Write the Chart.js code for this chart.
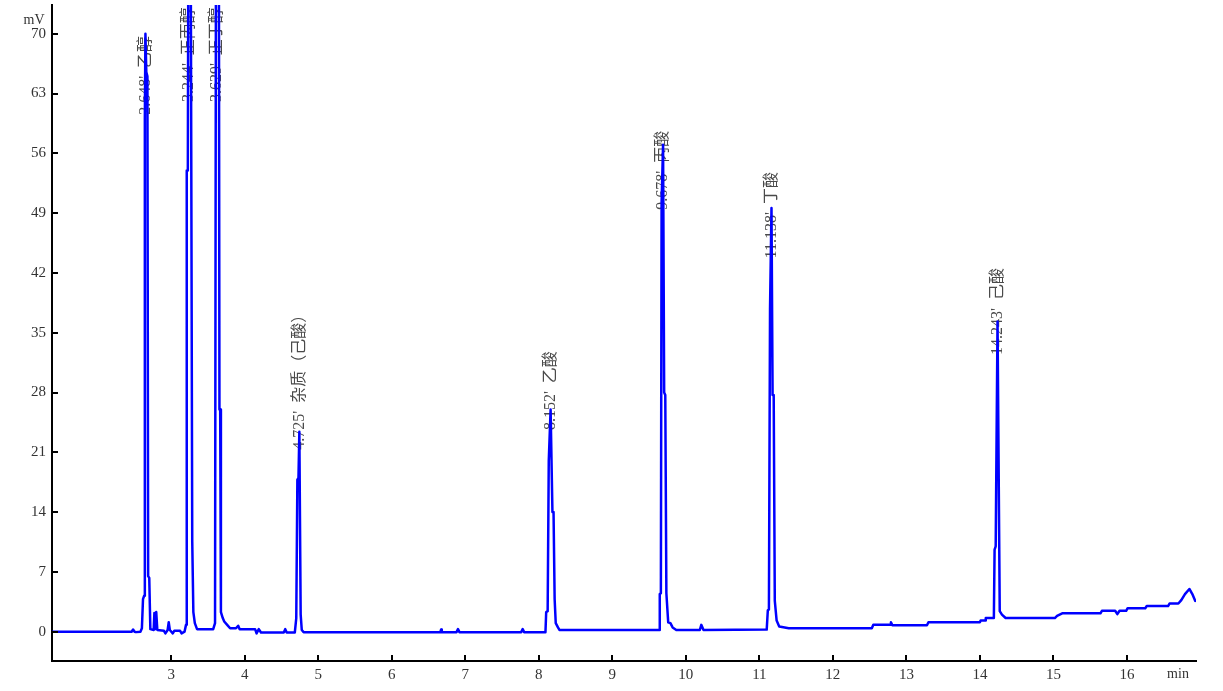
<!DOCTYPE html>
<html>
<head>
<meta charset="utf-8">
<script src="https://cdn.jsdelivr.net/npm/chart.js@4.4.3/dist/chart.umd.min.js"></script>
<style>
  html, body { margin: 0; padding: 0; background: #fff; }
  canvas { display: block; }
</style>
</head>
<body>
<canvas id="gc" width="1223" height="691"></canvas>
<script>
// retention time (min) and detector signal (mV)
const times = [
  1.38, 2.46, 2.48, 2.50, 2.52, 2.58, 2.60, 2.615, 2.63, 2.64, 2.648, 2.66, 2.675, 2.685, 2.70, 2.715,
  2.76, 2.77, 2.78, 2.795, 2.81, 2.90, 2.92, 2.95, 2.965, 2.98, 3.02, 3.04, 3.12, 3.14, 3.18,
  3.20, 3.21, 3.225, 3.235, 3.26, 3.285, 3.30, 3.32, 3.35, 3.57, 3.595, 3.61, 3.645, 3.655, 3.665,
  3.675, 3.70, 3.72, 3.76, 3.80, 3.88, 3.91, 3.93, 4.14, 4.16, 4.19, 4.22, 4.53, 4.55, 4.57, 4.68,
  4.70, 4.715, 4.73, 4.742, 4.76, 4.775, 4.80, 6.66, 6.67, 6.68, 6.88, 6.90, 6.92, 7.76, 7.78, 7.80,
  8.09, 8.10, 8.12, 8.135, 8.16, 8.185, 8.20, 8.215, 8.23, 8.26, 8.28, 9.635, 9.645, 9.66, 9.67,
  9.69, 9.705, 9.72, 9.735, 9.76, 9.79, 9.82, 9.87, 10.19, 10.21, 10.24, 11.10, 11.115, 11.13,
  11.145, 11.165, 11.18, 11.195, 11.21, 11.235, 11.27, 11.40, 12.53, 12.55, 12.78, 12.79, 12.81,
  13.28, 13.30, 14.00, 14.01, 14.07, 14.08, 14.19, 14.20, 14.215, 14.24, 14.27, 14.30, 14.35,
  15.02, 15.05, 15.12, 15.64, 15.66, 15.84, 15.87, 15.90, 15.99, 16.01, 16.25, 16.27, 16.56,
  16.58, 16.70, 16.74, 16.79, 16.85, 16.89, 16.93
];
const signal = [
  0, 0, 0.25, 0, -0.05, 0, 0.4, 3.8, 4.2, 60, 70, 65.5, 65, 6.5, 6.3, 0.3,
  0.2, 2.2, 0.3, 2.3, 0.2, 0.1, -0.2, 0.2, 1.1, 0.2, -0.2, 0.1, 0.1, -0.2, 0,
  0.8, 54, 54, 95, 95, 10.5, 2.3, 1.0, 0.3, 0.3, 1.0, 95, 95, 26, 26,
  2.3, 1.6, 1.2, 0.8, 0.4, 0.4, 0.7, 0.3, 0.3, -0.2, 0.3, -0.1, -0.1, 0.3, -0.1, -0.1,
  1.6, 17.8, 18, 23.4, 2, 0.2, -0.05, -0.05, 0.25, -0.05, -0.05, 0.3, -0.05, -0.05, 0.3, -0.05,
  -0.05, 2.3, 2.4, 20, 26, 14, 14, 3.8, 1.0, 0.5, 0.2, 0.2, 4.4, 4.5, 50.3,
  57, 28, 27.7, 4.5, 1.1, 1.0, 0.5, 0.2, 0.2, 0.8, 0.2, 0.25, 2.5, 2.6,
  37.7, 49.6, 27.7, 27.7, 3.6, 1.3, 0.6, 0.4, 0.4, 0.8, 0.8, 1.1, 0.75,
  0.75, 1.1, 1.1, 1.3, 1.3, 1.6, 1.6, 9.6, 10, 36.3, 2.4, 2.0, 1.6,
  1.6, 1.85, 2.15, 2.15, 2.45, 2.45, 2.05, 2.45, 2.45, 2.75, 2.75, 3.0, 3.0,
  3.3, 3.3, 3.7, 4.4, 5.0, 4.4, 3.6
];

// peak annotations
const peakTimes  = [2.65, 3.24, 3.625, 4.745, 8.165, 9.69, 11.17, 14.245];
const peakLevels = [60.5, 62.0, 62.0, 21.3, 23.6, 49.4, 43.7, 32.4];
const peakTexts  = [
  "2.648'  乙醇", "3.244'  正丙醇", "3.629'  正丁醇", "4.725'  杂质（己酸）",
  "8.152'  乙酸", "9.678'  丙酸", "11.138'  丁酸", "14.243'  己酸"
];

const xTicks = [3, 4, 5, 6, 7, 8, 9, 10, 11, 12, 13, 14, 15, 16];
const yTicks = [0, 7, 14, 21, 28, 35, 42, 49, 56, 63, 70];

const serif = '"Liberation Serif", "Times New Roman", serif';

// inward tick marks, axis units and peak labels
const decor = {
  id: 'decor',
  beforeDatasetsDraw(chart) {
    const { ctx, scales: { x, y } } = chart;
    ctx.save();
    ctx.fillStyle = '#4a4a4a';
    ctx.font = '16px "Liberation Serif", "Noto Sans CJK SC", serif';
    ctx.textAlign = 'left';
    ctx.textBaseline = 'middle';
    peakTexts.forEach((t, i) => {
      ctx.save();
      ctx.translate(x.getPixelForValue(peakTimes[i]), y.getPixelForValue(peakLevels[i]));
      ctx.rotate(-Math.PI / 2);
      ctx.fillText(t, 0, 0);
      ctx.restore();
    });
    ctx.restore();
  },
  afterDraw(chart) {
    const { ctx, chartArea: a, scales: { x, y } } = chart;
    ctx.save();
    ctx.strokeStyle = '#000';
    ctx.lineWidth = 2;
    ctx.beginPath();
    xTicks.forEach(v => {
      const px = Math.round(x.getPixelForValue(v));
      ctx.moveTo(px, a.bottom); ctx.lineTo(px, a.bottom - 6);
    });
    yTicks.forEach(v => {
      const py = Math.round(y.getPixelForValue(v));
      ctx.moveTo(a.left, py); ctx.lineTo(a.left + 6, py);
    });
    ctx.stroke();
    ctx.fillStyle = '#333';
    ctx.font = '14px ' + serif;
    ctx.textAlign = 'center';
    ctx.textBaseline = 'middle';
    ctx.fillText('mV', 34, 20);
    ctx.fillText('min', 1178, 674);
    ctx.restore();
  }
};

new Chart(document.getElementById('gc'), {
  type: 'line',
  data: {
    datasets: [{
      data: times.map((t, i) => ({ x: t, y: signal[i] })),
      borderColor: '#0000ff',
      borderWidth: 2.5,
      borderJoinStyle: 'round',
      borderCapStyle: 'round',
      pointRadius: 0,
      tension: 0,
      fill: false
    }]
  },
  options: {
    responsive: false,
    animation: false,
    devicePixelRatio: 1,
    layout: { padding: { top: 5, right: 27, left: 0, bottom: 0 } },
    plugins: { legend: { display: false }, tooltip: { enabled: false } },
    scales: {
      x: {
        type: 'linear', min: 1.377, max: 16.94,
        afterBuildTicks: s => { s.ticks = xTicks.map(v => ({ value: v })); },
        afterFit: s => { s.height = 30; s.paddingLeft = 0; s.paddingRight = 0; },
        grid: { drawOnChartArea: false, drawTicks: false },
        border: { display: true, color: '#000', width: 2 },
        ticks: { padding: 5, color: '#333', font: { family: serif, size: 15 }, maxRotation: 0 }
      },
      y: {
        type: 'linear', min: -3.43, max: 73.36,
        afterBuildTicks: s => { s.ticks = yTicks.map(v => ({ value: v })); },
        afterFit: s => { s.width = 52; s.paddingTop = 0; s.paddingBottom = 0; },
        grid: { drawOnChartArea: false, drawTicks: false },
        border: { display: true, color: '#000', width: 2 },
        ticks: { padding: 6, color: '#333', font: { family: serif, size: 15 } }
      }
    }
  },
  plugins: [decor]
});
</script>
</body>
</html>
